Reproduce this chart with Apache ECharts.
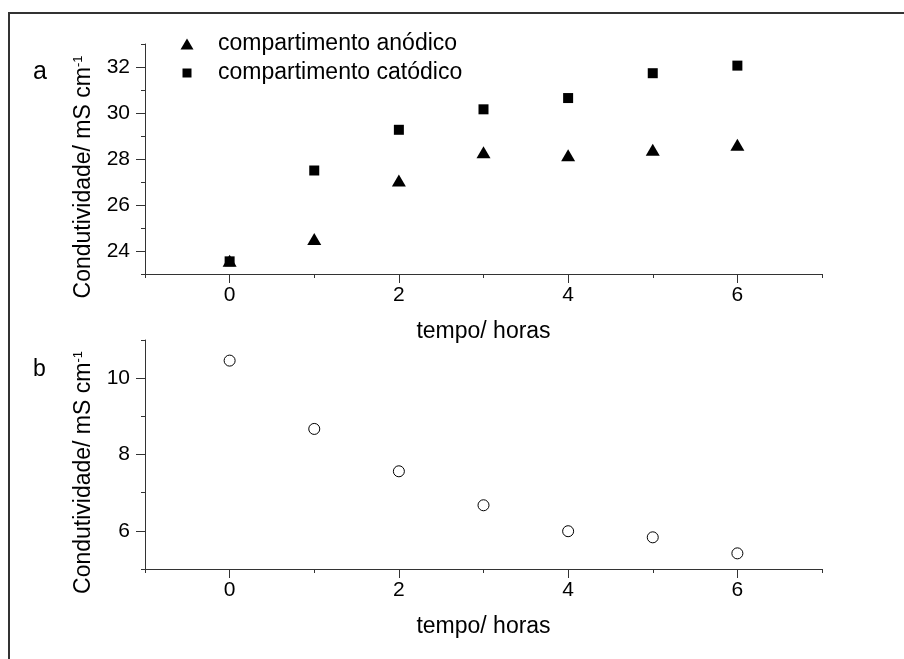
<!DOCTYPE html>
<html>
<head>
<meta charset="utf-8">
<script src="https://cdn.jsdelivr.net/npm/echarts@6/dist/echarts.min.js"></script>
<style>html,body{margin:0;padding:0;background:#fff}#c{width:904px;height:659px}</style>
</head>
<body>
<div id="c"></div>
<script>
var hours = [0, 1, 2, 3, 4, 5, 6];
var anodico = [23.58, 24.52, 27.06, 28.29, 28.16, 28.4, 28.62];
var catodico = [23.55, 27.5, 29.27, 30.16, 30.65, 31.73, 32.06];
var panelB = [10.46, 8.67, 7.56, 6.67, 5.99, 5.83, 5.41];
var xMajor = [0, 2, 4, 6];
var xMinor = [-1, 1, 3, 5, 7];
var yAMajor = [24, 26, 28, 30, 32];
var yAMinor = [23, 25, 27, 29, 31, 33];
var yBMajor = [6, 8, 10];
var yBMinor = [5, 7, 9, 11];
var nameA = 'compartimento anódico';
var nameC = 'compartimento catódico';
var xTitle = 'tempo/ horas';

var FONT = 'Arial, "Liberation Sans", sans-serif';
var AX = '#333';
function pts(ys) { return hours.map(function (h, i) { return [h, ys[i]]; }); }

function xAxes(gi) {
  return [{
    gridIndex: gi, type: 'value', min: -1, max: 7, position: 'bottom',
    axisLine: { show: true, onZero: false, lineStyle: { color: AX, width: 1 } },
    axisTick: { show: true, customValues: xMajor, length: 9, lineStyle: { color: AX } },
    axisLabel: { customValues: xMajor, fontSize: 21, color: '#000', fontFamily: FONT, margin: 11 },
    splitLine: { show: false },
    name: xTitle, nameLocation: 'middle', nameGap: 46,
    nameTextStyle: { fontSize: 23, color: '#000', fontFamily: FONT }
  }, {
    gridIndex: gi, type: 'value', min: -1, max: 7, position: 'bottom',
    axisLine: { show: false, onZero: false },
    axisTick: { show: true, customValues: xMinor, length: 4, lineStyle: { color: AX } },
    axisLabel: { show: false },
    splitLine: { show: false }
  }];
}
function yAxes(gi, min, max, major, minor) {
  return [{
    gridIndex: gi, type: 'value', min: min, max: max, position: 'left',
    axisLine: { show: true, onZero: false, lineStyle: { color: AX, width: 1 } },
    axisTick: { show: true, customValues: major, length: 9, lineStyle: { color: AX } },
    axisLabel: { customValues: major, fontSize: 21, color: '#000', fontFamily: FONT, margin: 15 },
    splitLine: { show: false },
    name: 'Condutividade/ mS cm{sup|-1}', nameLocation: 'middle', nameGap: 50, nameRotate: 90,
    nameTextStyle: { fontSize: 23, color: '#000', fontFamily: FONT, padding: [0, 36, 0, 0],
      rich: { sup: { fontSize: 13, color: '#000', fontFamily: FONT, verticalAlign: 'top', padding: [0, 0, 10, 0] } } }
  }, {
    gridIndex: gi, type: 'value', min: min, max: max, position: 'left',
    axisLine: { show: false, onZero: false },
    axisTick: { show: true, customValues: minor, length: 4, lineStyle: { color: AX } },
    axisLabel: { show: false },
    splitLine: { show: false }
  }];
}

var chart = echarts.init(document.getElementById('c'), null, { renderer: 'canvas' });
chart.setOption({
  backgroundColor: '#fff',
  animation: false,
  textStyle: { fontFamily: FONT },
  grid: [
    { left: 145, top: 44, width: 677, height: 230 },
    { left: 145, top: 340, width: 677, height: 229 }
  ],
  xAxis: xAxes(0).concat(xAxes(1)),
  yAxis: yAxes(0, 23, 33, yAMajor, yAMinor).concat(yAxes(1, 5, 11, yBMajor, yBMinor)),
  legend: [{
    orient: 'vertical', left: 180.5, top: 32.5, padding: 0,
    itemWidth: 13, itemHeight: 11,
    data: [{ name: nameA, icon: 'triangle' }],
    textStyle: { fontSize: 23, color: '#000', fontFamily: FONT, lineHeight: 23, padding: [0, 0, 0, 19.5] }
  }, {
    orient: 'vertical', left: 182.5, top: 61.5, padding: 0,
    itemWidth: 9, itemHeight: 9,
    data: [{ name: nameC, icon: 'rect' }],
    textStyle: { fontSize: 23, color: '#000', fontFamily: FONT, lineHeight: 23, padding: [0, 0, 0, 21.5] }
  }],
  graphic: [
    { type: 'rect', shape: { x: 9, y: 13, width: 1000, height: 1000 }, style: { fill: 'none', stroke: '#333', lineWidth: 2 } },
    { type: 'text', left: 33, top: 60, style: { text: 'a', fontSize: 25, fill: '#000', fontFamily: FONT } },
    { type: 'text', left: 33, top: 358, style: { text: 'b', fontSize: 23, fill: '#000', fontFamily: FONT } }
  ],
  series: [
    { name: nameC, type: 'scatter', xAxisIndex: 0, yAxisIndex: 0, symbol: 'rect', symbolSize: 10,
      itemStyle: { color: '#000', opacity: 1 }, data: pts(catodico) },
    { name: nameA, type: 'scatter', xAxisIndex: 0, yAxisIndex: 0, symbol: 'triangle', symbolSize: [14, 12],
      itemStyle: { color: '#000', opacity: 1 }, data: pts(anodico) },
    { name: 'b', type: 'scatter', xAxisIndex: 2, yAxisIndex: 2, symbol: 'circle', symbolSize: 11,
      itemStyle: { color: '#fff', borderColor: '#000', borderWidth: 1, opacity: 1 }, data: pts(panelB) }
  ]
});
</script>
</body>
</html>
